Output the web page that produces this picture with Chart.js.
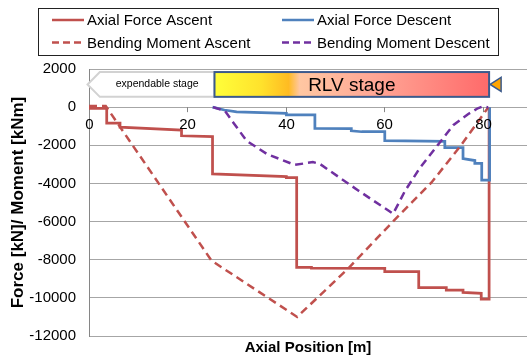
<!DOCTYPE html>
<html>
<head>
<meta charset="utf-8">
<script src="https://cdn.jsdelivr.net/npm/chart.js@4.4.1/dist/chart.umd.min.js"></script>
<style>
  html, body { margin: 0; padding: 0; background: #fff; }
  #wrap { width: 528px; height: 358px; }
</style>
</head>
<body>
<div id="wrap"><canvas id="chart"></canvas></div>
<script>
// series values (x = axial position [m], y = kN / kNm)
const forceAscentX = [0, 3.6, 3.6, 6.3, 6.3, 18.8, 18.8, 25.1, 25.1, 40.1, 40.1, 42.2, 42.2, 45.2, 45.2, 60.1, 60.1, 67.0, 67.0, 72.6, 72.6, 76.0, 76.0, 79.7, 79.7, 81.3, 81.3];
const forceAscentY = [-70, -70, -840, -840, -1050, -1200, -1500, -1540, -3500, -3640, -3700, -3700, -8400, -8400, -8440, -8460, -8630, -8630, -9460, -9460, -9590, -9590, -9710, -9760, -10060, -10060, 0];

const forceDescentX = [25.1, 27.5, 30.0, 40.1, 40.1, 45.9, 45.9, 53.3, 53.3, 55.4, 60.1, 60.1, 72.3, 72.3, 76.0, 76.0, 78.4, 78.4, 79.8, 79.8, 81.4, 81.4];
const forceDescentY = [0, -150, -250, -330, -400, -400, -1110, -1130, -1240, -1290, -1290, -1760, -1790, -2120, -2120, -2700, -2800, -2950, -2950, -3830, -3830, 0];

const momentAscentX = [0, 3.4, 24.9, 42.3, 52.7, 61.8, 69.6, 75.6, 81.1];
const momentAscentY = [60, 60, -8050, -11000, -8450, -5990, -3950, -2000, -20];

const momentDescentX = [25.2, 27.6, 29.3, 32.0, 36.1, 41.8, 45.5, 46.9, 54.7, 61.8, 64.2, 67.2, 71.6, 74.0, 77.0, 79.0, 80.1, 81.1];
const momentDescentY = [0, -190, -800, -1760, -2450, -3030, -2880, -2975, -4370, -5590, -4400, -3200, -1750, -950, -370, -60, 40, -15];

const seriesLabels = ["Axial Force Ascent", "Axial Force Descent", "Bending Moment Ascent", "Bending Moment Descent"];
const xTickValues = [0, 20, 40, 60, 80];

const FONT = "'Liberation Sans', Arial, sans-serif";
Chart.defaults.font.family = FONT;
Chart.defaults.color = "#000";

function pts(xs, ys) {
  return xs.map((x, i) => ({ x: x, y: ys[i] }));
}

// x tick labels sit on the zero line, like the Excel original
const zeroAxisTicks = {
  id: "zeroAxisTicks",
  afterDatasetsDraw(chart) {
    const ctx = chart.ctx;
    const xs = chart.scales.x;
    const y0 = chart.scales.y.getPixelForValue(0);
    ctx.save();
    ctx.strokeStyle = "#868686";
    ctx.lineWidth = 1;
    ctx.fillStyle = "#000";
    ctx.font = "15px " + FONT;
    ctx.textAlign = "center";
    ctx.textBaseline = "middle";
    xTickValues.forEach((v) => {
      const px = Math.round(xs.getPixelForValue(v)) + 0.5;
      if (v !== 0) {
        ctx.beginPath();
        ctx.moveTo(px, y0);
        ctx.lineTo(px, y0 + 5);
        ctx.stroke();
      }
      ctx.fillText(String(v), px, y0 + 18);
    });
    ctx.restore();
  }
};

// stage bar drawn above the curves
const stageBar = {
  id: "stageBar",
  afterDatasetsDraw(chart) {
    const ctx = chart.ctx;
    const xs = chart.scales.x;
    const ys = chart.scales.y;
    const top = ys.getPixelForValue(1840);
    const bot = ys.getPixelForValue(540);
    const mid = (top + bot) / 2;
    const tip = xs.getPixelForValue(-0.3);
    const neck = xs.getPixelForValue(2.2);
    const split = xs.getPixelForValue(25.5);
    const end = xs.getPixelForValue(81.3);

    ctx.save();
    // expendable stage arrow
    ctx.beginPath();
    ctx.moveTo(tip, mid);
    ctx.lineTo(neck, top);
    ctx.lineTo(split, top);
    ctx.lineTo(split, bot);
    ctx.lineTo(neck, bot);
    ctx.closePath();
    ctx.fillStyle = "#fff";
    ctx.fill();
    ctx.strokeStyle = "#d2d2d2";
    ctx.lineWidth = 2;
    ctx.stroke();
    ctx.fillStyle = "#000";
    ctx.font = "10.5px " + FONT;
    ctx.textAlign = "center";
    ctx.textBaseline = "middle";
    ctx.fillText("expendable stage", (neck + split) / 2, mid);

    // RLV stage box
    const g = ctx.createLinearGradient(split, 0, end, 0);
    g.addColorStop(0, "#ffff3a");
    g.addColorStop(0.17, "#ffe22c");
    g.addColorStop(0.27, "#ffbb22");
    g.addColorStop(0.31, "#ffc7a2");
    g.addColorStop(0.6, "#ffa494");
    g.addColorStop(1, "#ff6a6a");
    ctx.fillStyle = g;
    ctx.fillRect(split, top, end - split, bot - top);
    ctx.strokeStyle = "#3b5a8c";
    ctx.lineWidth = 2;
    ctx.strokeRect(split, top, end - split, bot - top);
    ctx.fillStyle = "#000";
    ctx.font = "19px " + FONT;
    ctx.fillText("RLV stage", split + (end - split) * 0.5, mid + 1);

    // small orange marker
    ctx.beginPath();
    ctx.moveTo(end + 1, mid);
    ctx.lineTo(end + 12, mid - 7);
    ctx.lineTo(end + 12, mid + 7);
    ctx.closePath();
    ctx.fillStyle = "#ffa500";
    ctx.fill();
    ctx.strokeStyle = "#3b5a8c";
    ctx.lineWidth = 1.5;
    ctx.stroke();
    ctx.restore();
  }
};

// boxed 2x2 legend
const boxLegend = {
  id: "boxLegend",
  afterDraw(chart) {
    const ctx = chart.ctx;
    const cols = [52, 282];
    const rows = [20, 42.5];
    ctx.save();
    ctx.strokeStyle = "#222";
    ctx.lineWidth = 1;
    ctx.strokeRect(38.5, 8.5, 460, 47);
    ctx.font = "15px " + FONT;
    ctx.textBaseline = "middle";
    ctx.textAlign = "left";
    chart.data.datasets.forEach((ds, i) => {
      const cx = cols[i % 2];
      const cy = rows[Math.floor(i / 2)];
      ctx.strokeStyle = ds.borderColor;
      ctx.lineWidth = 2.5;
      ctx.setLineDash(ds.borderDash && ds.borderDash.length ? [7, 4] : []);
      ctx.beginPath();
      ctx.moveTo(cx, cy);
      ctx.lineTo(cx + 32, cy);
      ctx.stroke();
      ctx.setLineDash([]);
      ctx.fillStyle = "#000";
      ctx.fillText(ds.label, cx + 35, cy + 1);
    });
    ctx.restore();
  }
};

const ctx = document.getElementById("chart").getContext("2d");

new Chart(ctx, {
  type: "line",
  data: {
    datasets: [
      {
        label: seriesLabels[0],
        data: pts(forceAscentX, forceAscentY),
        borderColor: "#c0504d",
        borderWidth: 2.75,
        order: 4,
      },
      {
        label: seriesLabels[1],
        data: pts(forceDescentX, forceDescentY),
        borderColor: "#4f81bd",
        borderWidth: 2.75,
        order: 3,
      },
      {
        label: seriesLabels[2],
        data: pts(momentAscentX, momentAscentY),
        borderColor: "#c0504d",
        borderWidth: 2.5,
        borderDash: [8, 5],
        order: 2,
      },
      {
        label: seriesLabels[3],
        data: pts(momentDescentX, momentDescentY),
        borderColor: "#7030a0",
        borderWidth: 2.5,
        borderDash: [8, 5],
        order: 1,
      },
    ],
  },
  options: {
    responsive: true,
    maintainAspectRatio: false,
    animation: false,
    devicePixelRatio: 1,
    elements: {
      point: { radius: 0, hoverRadius: 0 },
      line: { tension: 0, fill: false, borderCapStyle: "butt", borderJoinStyle: "miter" },
    },
    layout: { padding: { top: 69, right: 1, bottom: 0, left: 0 } },
    plugins: {
      legend: { display: false },
      tooltip: { enabled: false },
    },
    scales: {
      x: {
        type: "linear",
        position: "bottom",
        min: 0,
        max: 89,
        ticks: { display: false, stepSize: 20, includeBounds: false },
        grid: { display: false },
        border: { display: false },
        title: {
          display: true,
          text: "Axial Position [m]",
          color: "#000",
          font: { size: 15, weight: "bold" },
          padding: 0,
        },
        afterFit(scale) {
          scale.height = 21;
        },
      },
      y: {
        min: -12000,
        max: 2000,
        ticks: {
          stepSize: 2000,
          padding: 13,
          color: "#000",
          font: { size: 15 },
          callback: (v) => String(v),
        },
        grid: { color: "#a6a6a6", drawTicks: false },
        border: { color: "#868686" },
        title: {
          display: true,
          text: "Force [kN]/ Moment [kNm]",
          color: "#000",
          font: { size: 17, weight: "bold" },
          padding: { top: 8, bottom: 0 },
        },
        afterFit(scale) {
          scale.width = 89;
        },
      },
    },
  },
  plugins: [zeroAxisTicks, stageBar, boxLegend],
});
</script>
</body>
</html>
